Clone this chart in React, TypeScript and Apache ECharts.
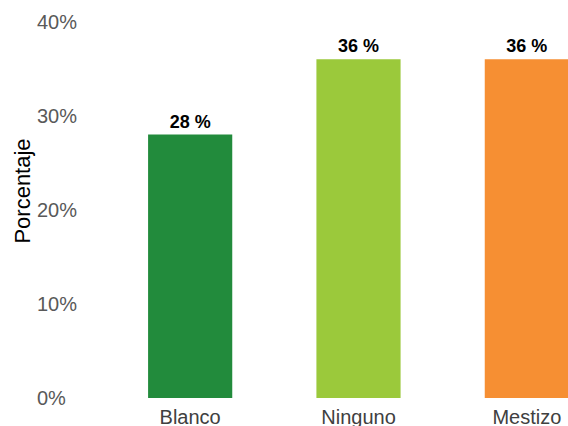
import React, { useEffect, useRef } from "react";
import * as echarts from "echarts";

const categories = ["Blanco", "Ninguno", "Mestizo"];
const values = [28, 36, 36];
const colors = ["#228B3C", "#9BC93B", "#F68F33"];
const yTicks = [0, 10, 20, 30, 40];

export default function App() {
  const ref = useRef<HTMLDivElement>(null);
  useEffect(() => {
    if (!ref.current) return;
    const chart = echarts.init(ref.current, null, { renderer: "svg" });
    chart.setOption({
      animation: false,
      textStyle: { fontFamily: "Liberation Sans, Arial, sans-serif" },
      grid: { left: 106, top: 21.7, right: 9, bottom: 28, outerBoundsMode: "none", containLabel: false },
      graphic: [
        {
          type: "text",
          x: 22,
          y: 191,
          rotation: Math.PI / 2,
          style: {
            text: "Porcentaje",
            fontSize: 22,
            fill: "#000",
            align: "center",
            verticalAlign: "middle",
            fontFamily: "Liberation Sans, Arial, sans-serif",
          },
        },
      ],
      xAxis: {
        type: "category",
        data: categories,
        axisLine: { show: false },
        axisTick: { show: false },
        axisLabel: { fontSize: 20, lineHeight: 14, color: "#404040", margin: 12 },
      },
      yAxis: {
        type: "value",
        min: yTicks[0],
        max: yTicks[yTicks.length - 1],
        interval: 10,
        splitLine: { show: false },
        axisLine: { show: false },
        axisTick: { show: false },
        axisLabel: {
          fontSize: 20,
          color: "#595959",
          align: "left",
          margin: 69,
          padding: [11, 0, 0, 0],
          formatter: (v: number) => `${v}%`,
        },
      },
      series: [
        {
          type: "bar",
          barWidth: "50%",
          data: values.map((v, i) => ({ value: v, itemStyle: { color: colors[i] } })),
          label: {
            show: true,
            position: "top",
            distance: 4,
            fontSize: 18,
            fontWeight: "bold",
            color: "#000",
            formatter: (p: any) => `${p.value} %`,
          },
        },
      ],
    });
    return () => chart.dispose();
  }, []);
  return (
    <div
      style={{
        position: "fixed",
        left: 0,
        top: 0,
        width: 568,
        height: 426,
        overflow: "hidden",
        background: "#fff",
      }}
    >
      <div ref={ref} style={{ width: 620, height: 426 }} />
    </div>
  );
}
